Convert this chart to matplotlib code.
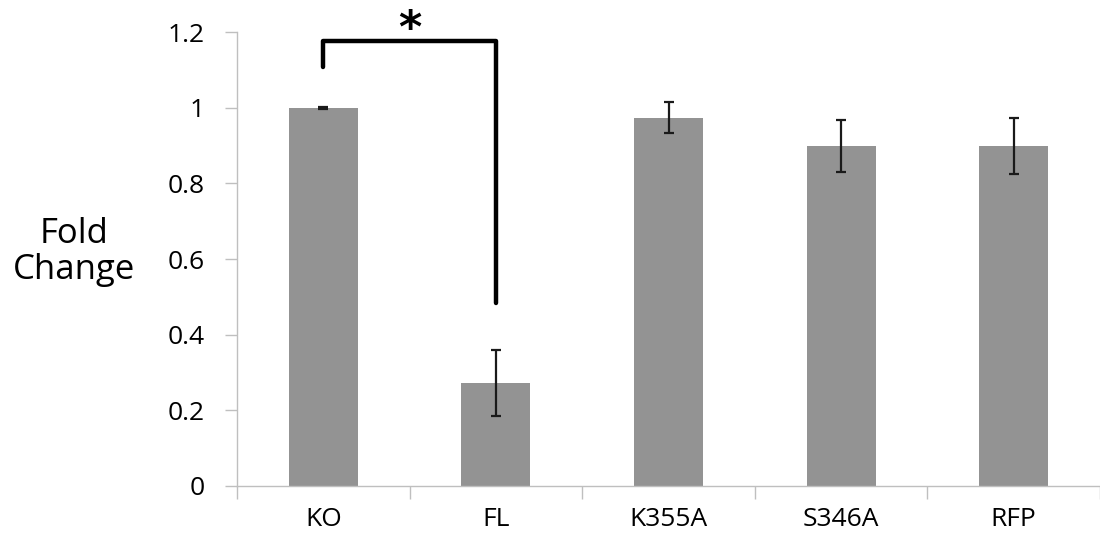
import matplotlib.pyplot as plt

plt.rcParams['font.family'] = ['Open Sans', 'DejaVu Sans']

samples = ['KO', 'FL', 'K355A', 'S346A', 'RFP']
fold_change = [1.0, 0.272, 0.974, 0.899, 0.899]
fold_err = [0.003, 0.088, 0.041, 0.070, 0.075]

# significance bracket between KO and FL
bracket_top = 1.177
bracket_left_end = 1.108
bracket_right_end = 0.484

fig = plt.figure(figsize=(11, 5.36), dpi=100)
ax = fig.add_axes([0.2155, 0.0933, 0.7845, 0.8467])

x = list(range(len(samples)))
ax.bar(x, fold_change, width=0.4, color='#939393', edgecolor='none', zorder=2)
ax.errorbar(x, fold_change, yerr=fold_err, fmt='none', ecolor='#1a1a1a',
            elinewidth=1.6, capsize=3.5, capthick=1.6, zorder=3)

ax.plot([0, 0, 1, 1], [bracket_left_end, bracket_top, bracket_top, bracket_right_end],
        color='black', lw=3.2, solid_capstyle='round', solid_joinstyle='round',
        clip_on=False, zorder=4)
ax.text(0.5, bracket_top - 0.002, '*', ha='center', va='baseline', fontsize=32,
        fontweight='bold', family='DejaVu Sans', clip_on=False)

ax.set_xlim(-0.5, 4.48)
ax.set_ylim(0, 1.2)
ax.set_yticks([0, 0.2, 0.4, 0.6, 0.8, 1.0, 1.2])
ax.set_yticklabels(['0', '0.2', '0.4', '0.6', '0.8', '1', '1.2'])

# category ticks sit between the bars, labels centred on the bars
ax.set_xticks([i + 0.5 for i in range(-1, len(samples))])
ax.set_xticklabels([])
ax.set_xticks(x, minor=True)
ax.set_xticklabels(samples, minor=True)
ax.tick_params(axis='x', which='minor', length=0, pad=15, labelsize=19)
ax.tick_params(axis='x', which='major', length=9, color='#bfbfbf', width=1)
ax.tick_params(axis='y', length=9, color='#bfbfbf', width=1, pad=14, labelsize=19)

for side in ['top', 'right']:
    ax.spines[side].set_visible(False)
for side in ['left', 'bottom']:
    ax.spines[side].set_color('#bfbfbf')
    ax.spines[side].set_linewidth(1)

fig.text(0.067, 0.53, 'Fold\nChange', ha='center', va='center', fontsize=25,
         linespacing=1.1)

fig.savefig('out.png', dpi=100)
